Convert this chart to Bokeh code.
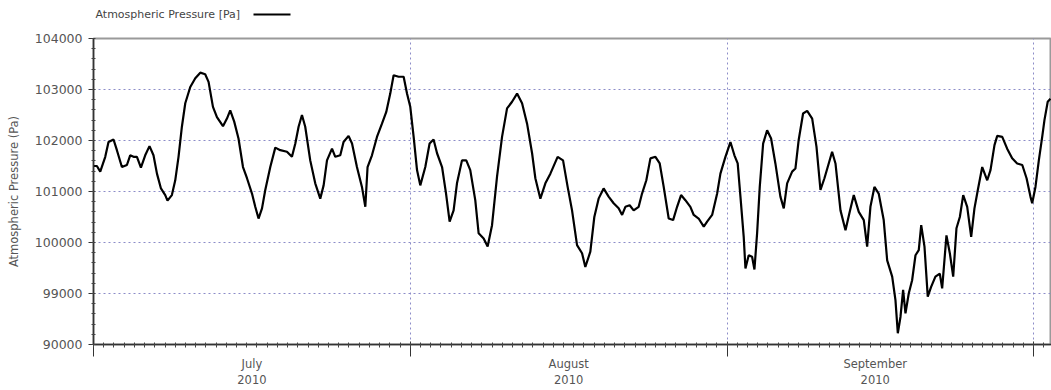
from bokeh.plotting import figure
from bokeh.layouts import column
from bokeh.models import FixedTicker, SingleIntervalTicker, LinearAxis, Range1d
from bokeh.core.properties import value
from bokeh.embed import file_html
from bokeh.resources import INLINE

# Time since 1 July 2010 (days) and station pressure (Pa)
days = [0, 0.33, 0.66, 1.15, 1.47, 1.96, 2.29, 2.78, 3.27, 3.59, 3.92, 4.25, 4.64, 5.06, 5.48,
        5.87, 6.21, 6.60, 7.02, 7.24, 7.67, 8.00, 8.32, 8.65, 8.98, 9.47, 9.96, 10.45, 10.93,
        11.26, 11.69, 12.08, 12.67, 13.06, 13.38, 13.77, 14.19, 14.63, 15.02, 15.51, 15.83,
        16.15, 16.49, 16.81, 17.30, 17.79, 18.28, 18.93, 19.42, 19.75, 20.07, 20.40, 20.72,
        21.21, 21.70, 22.19, 22.52, 22.85, 23.34, 23.66, 24.15, 24.47, 24.96, 25.30, 25.78,
        26.27, 26.60, 26.82, 27.25, 27.74, 28.23, 28.65, 29.04, 29.37, 29.86, 30.35, 30.68,
        31.00, 31.33, 31.66, 31.98, 32.47, 32.89, 33.28, 33.62, 34.11, 34.50, 34.85, 35.24,
        35.57, 36.06, 36.48, 36.87, 37.36, 37.69, 38.18, 38.57, 39.00, 39.49, 39.98, 40.47,
        40.96, 41.45, 41.94, 42.43, 42.92, 43.24, 43.73, 44.22, 44.71, 45.42, 45.95, 46.40,
        46.83, 47.32, 47.81, 48.13, 48.62, 49.01, 49.43, 49.92, 50.41, 50.90, 51.39, 51.73,
        52.05, 52.47, 52.86, 53.35, 53.68, 54.10, 54.50, 54.99, 55.41, 55.80, 56.29, 56.72,
        57.11, 57.50, 57.92, 58.41, 58.74, 59.22, 59.72, 60.05, 60.54, 61.03, 61.35, 61.84,
        62.33, 62.72, 63.04, 63.31, 63.63, 63.80, 64.12, 64.45, 64.68, 64.94, 65.20, 65.53,
        65.92, 66.31, 66.73, 67.22, 67.55, 67.88, 68.37, 68.69, 69.01, 69.44, 69.84, 70.33,
        70.75, 71.14, 71.53, 71.95, 72.28, 72.61, 73.10, 73.59, 74.00, 74.40, 74.89, 75.38,
        75.71, 76.03, 76.42, 76.84, 77.33, 77.67, 78.16, 78.48, 78.71, 78.97, 79.23, 79.46,
        79.78, 80.11, 80.44, 80.76, 81.00, 81.32, 81.64, 81.97, 82.39, 82.82, 83.05, 83.47,
        83.80, 84.13, 84.45, 84.78, 85.11, 85.50, 85.89, 86.21, 86.54, 86.97, 87.46, 87.78,
        88.17, 88.44, 88.93, 89.41, 89.90, 90.39, 90.89, 91.31, 91.69, 91.86, 92.18, 92.51,
        92.84, 93.06, 93.38, 93.65]

pressure = [101500, 101500, 101390, 101680, 101970, 102020, 101810, 101480, 101520, 101710,
            101680, 101680, 101470, 101710, 101890, 101710, 101350, 101060, 100930, 100820,
            100930, 101220, 101680, 102270, 102730, 103050, 103220, 103330, 103300, 103150,
            102660, 102460, 102280, 102430, 102590, 102370, 102040, 101480, 101260, 100960,
            100700, 100470, 100670, 101030, 101480, 101860, 101810, 101780, 101680, 101940,
            102270, 102500, 102270, 101610, 101160, 100860, 101120, 101610, 101840, 101680,
            101710, 101970, 102090, 101940, 101480, 101090, 100700, 101480, 101710, 102070,
            102330, 102560, 102920, 103280, 103250, 103250, 102920, 102660, 102070, 101420,
            101120, 101480, 101940, 102020, 101750, 101480, 100960, 100410, 100630, 101160,
            101610, 101610, 101420, 100830, 100180, 100080, 99920, 100340, 101290, 102070,
            102630, 102760, 102920, 102730, 102330, 101750, 101260, 100860, 101160, 101350,
            101680, 101610, 101090, 100630, 99950, 99790, 99520, 99820, 100500, 100860,
            101060, 100900, 100770, 100670, 100540, 100700, 100730, 100630, 100700, 100960,
            101220, 101650, 101680, 101550, 101090, 100470, 100440, 100700, 100930, 100830,
            100700, 100540, 100470, 100310, 100410, 100540, 100960, 101350, 101680, 101970,
            101710, 101550, 100900, 100110, 99490, 99750, 99720, 99470, 100180, 101090,
            101940, 102200, 102040, 101550, 100900, 100670, 101160, 101390, 101450, 102010,
            102530, 102580, 102430, 101880, 101030, 101260, 101550, 101780, 101550, 100630,
            100240, 100600, 100930, 100600, 100440, 99920, 100700, 101090, 100960, 100440,
            99650, 99330, 98870, 98220, 98540, 99070, 98610, 99000, 99260, 99750,
            99850, 100340, 99920, 98940, 99130, 99330, 99390, 99100, 100140, 99790,
            99330, 100280, 100500, 100930, 100700, 100110, 100670, 101030, 101480, 101220,
            101420, 101910, 102090, 102070, 101840, 101650, 101550, 101520, 101260, 100900,
            100770, 101090, 101610, 102070, 102400, 102760, 102820]

month_starts = [0, 31, 62, 92]
month_centres = [15.5, 46.5, 76.5]
month_names = ["July\n2010", "August\n2010", "September\n2010"]
y_ticks = [98000, 99000, 100000, 101000, 102000, 103000, 104000]
y_tick_labels = ["90000", "99000", "100000", "101000", "102000", "103000", "104000"]
series_name = "Atmospheric Pressure [Pa]"

FONT = "DejaVu Sans"
TEXT = "#555555"
GRID = "#8c8cc8"

# ---- series key strip (its frame lines up with the main plot frame, 93..1051 px) ----
key = figure(width=1051, height=30, output_backend="svg", toolbar_location=None,
             x_range=Range1d(93, 1051), y_range=Range1d(30, 0),
             x_axis_type=None, y_axis_type=None, min_border=0,
             background_fill_color="white", border_fill_color="white")
key.outline_line_color = None
key.xgrid.visible = False
key.ygrid.visible = False
key.text(x=[95], y=[14], text=[series_name], text_font=value(FONT),
         text_font_size="11px", text_color="#444444", text_baseline="middle")
key.line(x=[253, 290], y=[14, 14], line_color="black", line_width=2)

# ---- main plot ----
p = figure(width=1051, height=360, output_backend="svg", toolbar_location=None,
           x_range=Range1d(0, 93.75), y_range=Range1d(98000, 104000),
           min_border_left=93, min_border_right=0, min_border_top=8, min_border_bottom=45,
           background_fill_color="white", border_fill_color="white")

p.line(days, pressure, line_color="black", line_width=2.2)

# bottom axis: month boundaries and daily minor ticks
xa = p.xaxis[0]
xa.ticker = FixedTicker(ticks=month_starts, minor_ticks=list(range(0, 94)))
xa.major_label_overrides = {m: "" for m in month_starts}
xa.major_label_text_font_size = "1px"
xa.major_label_standoff = 0
xa.major_tick_in = 3
xa.major_tick_out = 12
xa.minor_tick_in = 2
xa.minor_tick_out = 3
xa.axis_line_color = "#333333"
xa.axis_line_width = 1.5
xa.major_tick_line_color = "#333333"
xa.minor_tick_line_color = "#444444"

# month names centred under each month
xl = LinearAxis(ticker=FixedTicker(ticks=month_centres),
                major_label_overrides=dict(zip(month_centres, month_names)),
                major_tick_line_color=None, minor_tick_line_color=None, axis_line_color=None,
                major_tick_in=0, major_tick_out=0, major_label_standoff=0,
                major_label_text_font=FONT, major_label_text_font_size="11.5px",
                major_label_text_color=TEXT)
p.add_layout(xl, "below")

ya = p.yaxis[0]
ya.ticker = SingleIntervalTicker(interval=1000, num_minor_ticks=5)
ya.major_label_overrides = dict(zip(y_ticks, y_tick_labels))
ya.major_label_text_font = FONT
ya.major_label_text_font_size = "12.5px"
ya.major_label_text_color = TEXT
ya.major_label_standoff = 6
ya.major_tick_in = 0
ya.major_tick_out = 5
ya.minor_tick_in = 2
ya.minor_tick_out = 2
ya.axis_line_color = "#333333"
ya.axis_line_width = 1.5
ya.major_tick_line_color = "#333333"
ya.minor_tick_line_color = "#444444"
ya.axis_label = "Atmospheric Pressure (Pa)"
ya.axis_label_text_font = FONT
ya.axis_label_text_font_size = "11.5px"
ya.axis_label_text_font_style = "normal"
ya.axis_label_text_color = TEXT
ya.axis_label_standoff = 11

p.xgrid.ticker = FixedTicker(ticks=month_starts)
p.ygrid.ticker = FixedTicker(ticks=y_ticks[1:-1])
for g in (p.xgrid, p.ygrid):
    g.grid_line_color = GRID
    g.grid_line_dash = "2 3"
    g.grid_line_width = 1

p.outline_line_color = "#9a9a9a"
p.outline_line_width = 2

layout = column(key, p, spacing=0)
open("out.html", "w").write(file_html(layout, INLINE))
